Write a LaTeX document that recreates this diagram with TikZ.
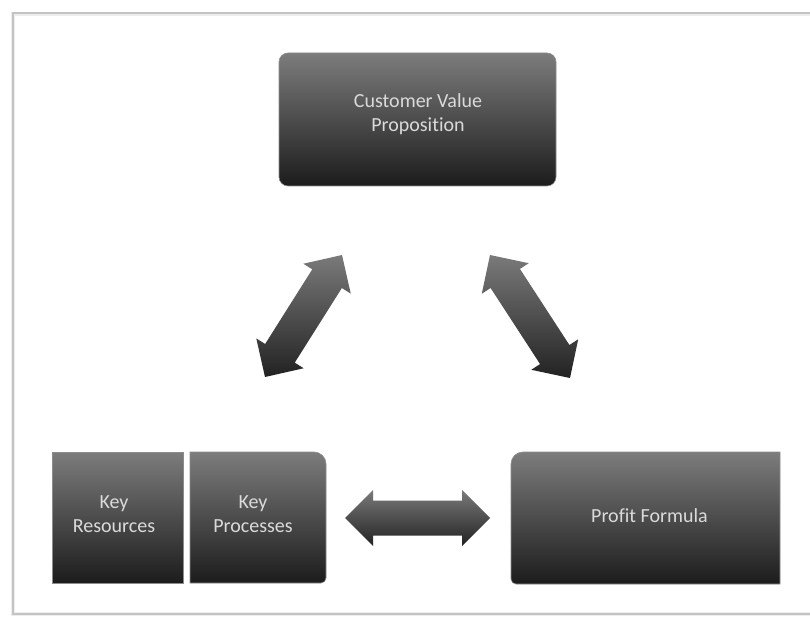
\documentclass[tikz,border=0pt]{standalone}
\usepackage{fontspec}
\setmainfont{Carlito}[Ligatures=NoCommon]
\usetikzlibrary{calc}

\definecolor{boxtop}{HTML}{7C7C7C}
\definecolor{boxbot}{HTML}{1C1C1C}
\definecolor{arrowtop}{HTML}{7A7A7A}
\definecolor{arrowbot}{HTML}{222222}
\definecolor{labeltext}{HTML}{DADADA}
\definecolor{boxedge}{HTML}{8C8C8C}
\definecolor{framegray}{HTML}{C4C4C4}
\definecolor{framehalo}{HTML}{EDEDED}

\tikzset{
  slot/.style={rectangle, inner sep=0pt, outer sep=0pt},
  boxshade/.style={top color=boxtop, bottom color=boxbot, draw=boxedge, line width=0.6pt},
  boxtext/.style={text=labeltext, font=\fontsize{20}{23.5}\selectfont, align=center, inner sep=0pt},
  arrowshade/.style={top color=arrowtop, bottom color=arrowbot, draw=none},
}

% double-headed block arrow between two tip coordinates
% #1 = prefix for helper points, #2 and #3 = tips
\newcommand\dblblockarrow[3]{%
  \coordinate (#1-a) at ($(#2)!28pt!(#3)$);
  \coordinate (#1-b) at ($(#3)!28pt!(#2)$);
  \path[arrowshade] (#2)
    -- ($(#1-a)!28pt!90:(#3)$) -- ($(#1-a)!17.5pt!90:(#3)$)
    -- ($(#1-b)!17.5pt!-90:(#2)$) -- ($(#1-b)!28pt!-90:(#2)$)
    -- (#3)
    -- ($(#1-b)!28pt!90:(#2)$) -- ($(#1-b)!17.5pt!90:(#2)$)
    -- ($(#1-a)!17.5pt!-90:(#3)$) -- ($(#1-a)!28pt!-90:(#3)$)
    -- cycle;
}

\begin{document}
\begin{tikzpicture}[x=1pt, y=-1pt]
  \useasboundingbox (0,0) rectangle (810,617);
  \fill[white] (0,0) rectangle (810,617);

  % outer frame, open on the right
  \draw[framehalo, line width=4pt] (810,14) -- (13,14) -- (13,614) -- (810,614);
  \draw[framegray, line width=1.4pt] (810,13) -- (13,13) -- (13,614) -- (810,614);

  % blocks
  \node[slot, boxshade, rounded corners=9pt, minimum width=277pt, minimum height=133pt]
    (cvp) at (417.5,119.5) {};
  \node[slot, boxshade, minimum width=131pt, minimum height=131pt]
    (kr) at (117.5,517.5) {};
  \node[slot, minimum width=136pt, minimum height=131pt] (kp) at (258,517.5) {};
  \node[slot, minimum width=269pt, minimum height=132pt] (pf) at (645.5,518) {};

  \path[boxshade] (kp.south west) -- (kp.north west)
    -- ([xshift=-12pt]kp.north east) arc[start angle=90, end angle=0, radius=12pt]
    -- ([yshift=5pt]kp.south east) arc[start angle=0, end angle=-90, radius=5pt]
    -- cycle;
  \path[boxshade] (pf.north east)
    -- ([xshift=12pt]pf.north west) arc[start angle=90, end angle=180, radius=12pt]
    -- ([yshift=5pt]pf.south west) arc[start angle=180, end angle=270, radius=5pt]
    -- (pf.south east) -- cycle;

  % labels
  \node[boxtext] (cvptext) at (418,114) {Customer Value\\Proposition};
  \node[boxtext] (krtext) at (114,514) {Key\\Resources};
  \node[boxtext] (kptext) at (253,514) {Key\\Processes};
  \node[boxtext] (pftext) at (649.5,516) {Profit Formula};

  % block arrows between the blocks
  \coordinate (l-low) at (265,377);
  \coordinate (l-high) at (342,255);
  \coordinate (r-high) at (490,255);
  \coordinate (r-low) at (570,378);
  \coordinate (h-left) at (345,518);
  \coordinate (h-right) at (490,518);
  \dblblockarrow{la}{l-low}{l-high}
  \dblblockarrow{ra}{r-high}{r-low}
  \dblblockarrow{ha}{h-left}{h-right}
\end{tikzpicture}
\end{document}
